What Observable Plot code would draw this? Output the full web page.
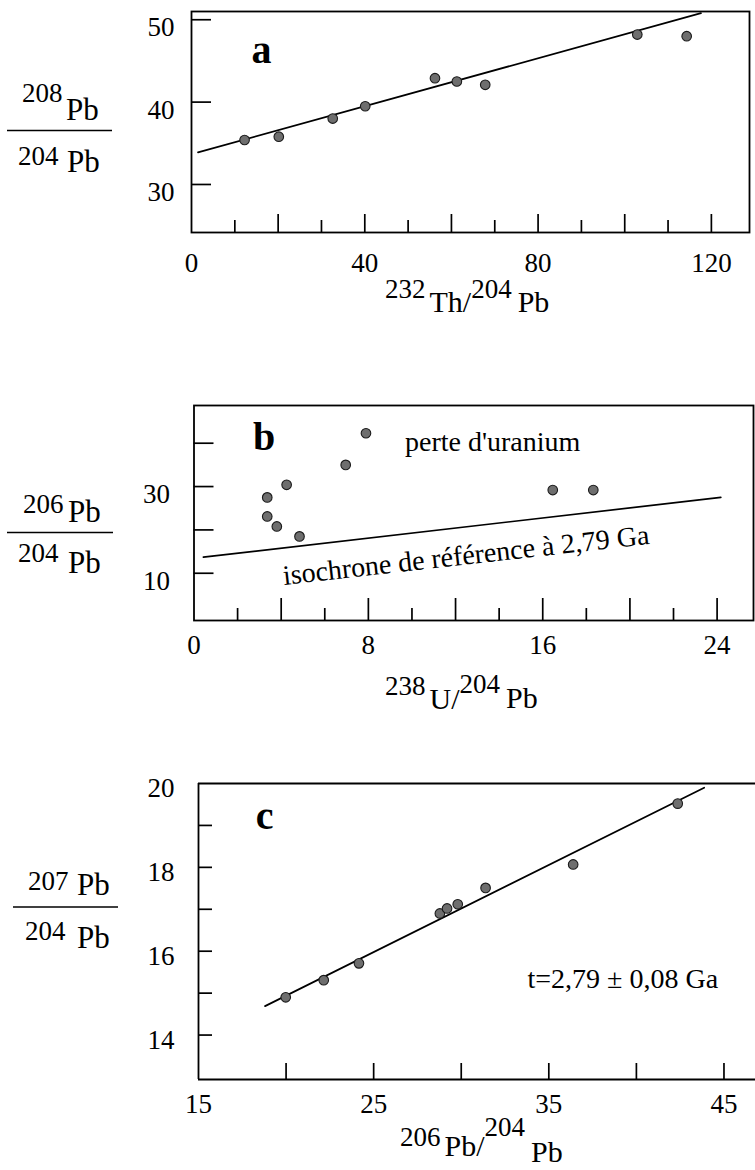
<!DOCTYPE html>
<html>
<head>
<meta charset="utf-8">
<script src="https://cdn.jsdelivr.net/npm/d3@7"></script>
<script src="https://cdn.jsdelivr.net/npm/@observablehq/plot@0.6"></script>
<style>
  html, body { margin: 0; padding: 0; background: #fff; }
  #page { position: relative; width: 755px; height: 1170px; overflow: hidden; background: #fff; }
  .panel { position: absolute; left: 0; }
</style>
</head>
<body>
<div id="page"></div>
<script>
// ---------- Panel a : 208Pb/204Pb vs 232Th/204Pb ----------
const aTh232 = [12.25, 20.15, 32.6, 40.1, 56.2, 61.25, 67.8, 102.9, 114.3];
const aPb208 = [35.4, 35.8, 38.0, 39.5, 42.9, 42.5, 42.1, 48.2, 48.0];
const aFitX = [1.5, 117.6];
const aFitY = [33.9, 50.8];
const aXDomain = [0, 128.8];
const aYDomain = [24.17, 51.0];
const aXLabels = [0, 40, 80, 120];
const aXMajor = [20, 40, 60, 80, 100, 120];
const aXMinor = [10, 30, 50, 70, 90, 110];
const aYTicks = [30, 40, 50];

// ---------- Panel b : 206Pb/204Pb vs 238U/204Pb ----------
const bU238 = [3.36, 3.36, 3.80, 4.25, 4.84, 6.96, 7.89, 16.46, 18.32];
const bPb206 = [27.5, 23.1, 20.8, 30.4, 18.5, 35.0, 42.3, 29.2, 29.2];
const bRefX = [0.43, 24.17];
const bRefY = [13.7, 27.5];
const bXDomain = [0, 25.67];
const bYDomain = [-0.9, 48.7];
const bXLabels = [0, 8, 16, 24];
const bXMajor = [4, 8, 12, 16, 20, 24];
const bXMinor = [2, 6, 10, 14, 18, 22];
const bYTicks = [10, 20, 30, 40];
const bYLabels = [10, 30];

// ---------- Panel c : 207Pb/204Pb vs 206Pb/204Pb ----------
const cPb206 = [19.98, 22.15, 24.16, 28.78, 29.19, 29.80, 31.39, 36.39, 42.36];
const cPb207 = [14.90, 15.31, 15.71, 16.90, 17.02, 17.12, 17.51, 18.07, 19.52];
const cFitX = [18.80, 43.87];
const cFitY = [14.69, 19.90];
const cXDomain = [15, 46.8];
const cYDomain = [12.94, 20];
const cXLabels = [15, 25, 35, 45];
const cXTicks = [20, 25, 30, 35, 40, 45];
const cYTicks = [14, 15, 16, 17, 18, 19];
const cYLabels = [14, 16, 18, 20];

const SERIF = '"Liberation Serif", "Times New Roman", Times, serif';
const page = document.getElementById("page");

const rows = (xs, ys) => xs.map((x, i) => ({x, y: ys[i]}));

const dotStyle = {r: 4.8, fill: "#6e6e6e", stroke: "#1a1a1a", strokeWidth: 1.1};
const lineStyle = {stroke: "black", strokeWidth: 1.7};

function yTickMarks(values, len) {
  return Plot.axisY(values, {tickSize: -len, fill: "none", strokeWidth: 1.7, label: null});
}
function xTickMarks(values, len) {
  return Plot.axisX(values, {tickSize: -len, fill: "none", strokeWidth: 1.7, label: null});
}
function yTickLabels(values, padding, dy) {
  return Plot.axisY(values, {tickSize: 0, tickPadding: padding, dy, fontSize: 27, label: null});
}
function xTickLabels(values, padding) {
  return Plot.axisX(values, {tickSize: 0, tickPadding: padding, fontSize: 27, label: null});
}

function makePanel({top, height, marginLeft, marginRight, marginTop, marginBottom, xDomain, yDomain, marks}) {
  const svg = Plot.plot({
    width: 755, height, marginLeft, marginRight, marginTop, marginBottom,
    x: {domain: xDomain, label: null},
    y: {domain: yDomain, label: null},
    style: {fontFamily: SERIF, fontSize: "27px", color: "black", background: "transparent"},
    marks
  });
  const div = document.createElement("div");
  div.className = "panel";
  div.style.top = top + "px";
  div.appendChild(svg);
  page.appendChild(div);
  return svg;
}

// ratio label (numerator over denominator) on the left
function ratioLabel(svg, {num, den, bar}) {
  const g = d3.select(svg).append("g").attr("font-family", SERIF).attr("fill", "black")
    .attr("text-anchor", "start");
  const t1 = g.append("text");
  t1.append("tspan").attr("x", num[0]).attr("y", num[1]).attr("font-size", 27).text(num[4]);
  t1.append("tspan").attr("x", num[2]).attr("y", num[3]).attr("font-size", 31).text("Pb");
  g.append("line").attr("x1", bar[0]).attr("x2", bar[1]).attr("y1", bar[2]).attr("y2", bar[2])
    .attr("stroke", "black").attr("stroke-width", 1.3);
  const t2 = g.append("text");
  t2.append("tspan").attr("x", den[0]).attr("y", den[1]).attr("font-size", 27).text("204");
  t2.append("tspan").attr("x", den[2]).attr("y", den[3]).attr("font-size", 31).text("Pb");
}

// x axis title: sup1 base1 sup2 base2
function xTitle(svg, {x, supY, baseY, parts}) {
  const t = d3.select(svg).append("text").attr("font-family", SERIF).attr("fill", "black")
    .attr("text-anchor", "start").attr("x", x).attr("y", supY);
  t.append("tspan").attr("font-size", 27).text(parts[0]);
  t.append("tspan").attr("font-size", 30).attr("dx", 4).attr("dy", baseY[0] - supY).text(parts[1]);
  t.append("tspan").attr("font-size", 27).attr("dy", supY - baseY[0] + (parts[4] || 0)).text(parts[2]);
  t.append("tspan").attr("font-size", 30).attr("dx", 6).attr("dy", baseY[1] - supY - (parts[4] || 0)).text(parts[3]);
}

// ---------- Panel a ----------
const svgA = makePanel({
  top: 0, height: 325, marginLeft: 191, marginRight: 6, marginTop: 11, marginBottom: 93,
  xDomain: aXDomain, yDomain: aYDomain,
  marks: [
    Plot.frame({stroke: "black", strokeWidth: 1.8}),
    yTickMarks(aYTicks, 20),
    xTickMarks(aXMajor, 18),
    xTickMarks(aXMinor, 12),
    yTickLabels(aYTicks, 17, 8),
    xTickLabels(aXLabels, 20),
    Plot.line(rows(aFitX, aFitY), {x: "x", y: "y", ...lineStyle}),
    Plot.dot(rows(aTh232, aPb208), {x: "x", y: "y", ...dotStyle}),
    Plot.text(["a"], {frameAnchor: "top-left", dx: 70, dy: 39, fontSize: 40, fontWeight: "bold",
      textAnchor: "middle", lineAnchor: "middle"})
  ]
});
ratioLabel(svgA, {num: [22, 102, 66, 120, "208"], den: [18, 165, 67, 172], bar: [7, 112, 130.5]});
xTitle(svgA, {x: 385, supY: 298, baseY: [312, 312], parts: ["232", "Th/", "204", "Pb", 0]});

// ---------- Panel b ----------
const svgB = makePanel({
  top: 380, height: 340, marginLeft: 193.5, marginRight: 2, marginTop: 25, marginBottom: 100,
  xDomain: bXDomain, yDomain: bYDomain,
  marks: [
    Plot.frame({stroke: "black", strokeWidth: 1.8}),
    yTickMarks(bYTicks, 20),
    xTickMarks(bXMajor, 22),
    xTickMarks(bXMinor, 12),
    yTickLabels(bYLabels, 24, 8),
    xTickLabels(bXLabels, 14),
    Plot.line(rows(bRefX, bRefY), {x: "x", y: "y", ...lineStyle}),
    Plot.dot(rows(bU238, bPb206), {x: "x", y: "y", ...dotStyle}),
    Plot.text(["b"], {frameAnchor: "top-left", dx: 70, dy: 32, fontSize: 40, fontWeight: "bold",
      textAnchor: "middle", lineAnchor: "middle"}),
    Plot.text(["perte d'uranium"], {frameAnchor: "top-left", dx: 211, dy: 37, fontSize: 28,
      textAnchor: "start", lineAnchor: "middle"}),
    Plot.text(["isochrone de référence à 2,79 Ga"], {frameAnchor: "top-left", dx: 272, dy: 150,
      fontSize: 28, rotate: -6.4, textAnchor: "middle", lineAnchor: "middle"})
  ]
});
ratioLabel(svgB, {num: [23, 133, 68, 142, "206"], den: [18, 182, 68, 193], bar: [7, 113, 152.5]});
xTitle(svgB, {x: 385, supY: 315, baseY: [329, 328], parts: ["238", "U/", "204", "Pb", -2]});

// ---------- Panel c ----------
const svgC = makePanel({
  top: 770, height: 400, marginLeft: 198, marginRight: 0, marginTop: 13, marginBottom: 91,
  xDomain: cXDomain, yDomain: cYDomain,
  marks: [
    Plot.ruleY(cYDomain, {stroke: "black", strokeWidth: 1.8}),
    Plot.ruleX([cXDomain[0]], {stroke: "black", strokeWidth: 1.8}),
    yTickMarks(cYTicks, 14),
    xTickMarks(cXTicks, 16),
    yTickLabels(cYLabels, 24, 5),
    xTickLabels(cXLabels, 14),
    Plot.line(rows(cFitX, cFitY), {x: "x", y: "y", ...lineStyle}),
    Plot.dot(rows(cPb206, cPb207), {x: "x", y: "y", ...dotStyle}),
    Plot.text(["c"], {frameAnchor: "top-left", dx: 66, dy: 33, fontSize: 40, fontWeight: "bold",
      textAnchor: "middle", lineAnchor: "middle"}),
    Plot.text(["t=2,79 ± 0,08 Ga"], {frameAnchor: "top-left", dx: 329, dy: 196, fontSize: 28,
      textAnchor: "start", lineAnchor: "middle"})
  ]
});
ratioLabel(svgC, {num: [28, 120, 77, 125, "207"], den: [25, 170, 77, 178], bar: [13, 118, 137]});
xTitle(svgC, {x: 400, supY: 376, baseY: [386, 392], parts: ["206", "Pb/", "204", "Pb", -10]});
</script>
</body>
</html>
